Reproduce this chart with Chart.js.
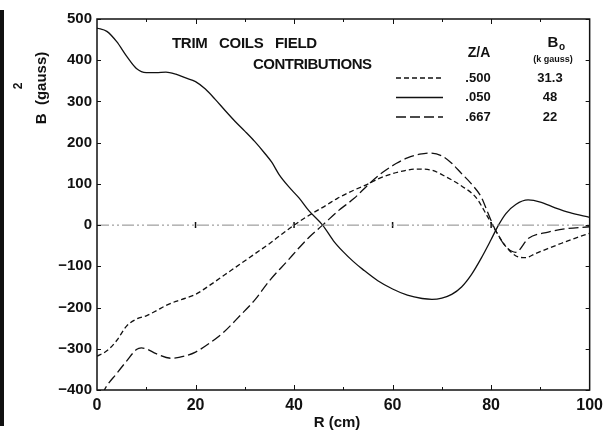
<!DOCTYPE html>
<html>
<head>
<meta charset="utf-8">
<script src="https://cdn.jsdelivr.net/npm/chart.js@4.4.1/dist/chart.umd.min.js"></script>
<style>
    html, body { margin: 0; padding: 0; background: #fff; }
    #wrap { position: relative; width: 609px; height: 430px; }
    #edge { position: absolute; left: 0; top: 10px; width: 4px; height: 416px; background: #111; }
</style>
</head>
<body>
<div id="wrap">
    <div id="edge"></div>
    <canvas id="chart" width="609" height="430"></canvas>
</div>
<script>
// Trim coil field contributions, B (gauss) against R (cm)

// Z/A = .050 (solid)
const rSolid = [0, 2, 4, 6, 8, 10, 12, 14, 16, 18, 20, 22, 24, 26, 28, 30, 32, 34, 35.5, 37, 39, 41, 43, 45.8,
    48, 50, 52, 54, 57, 60, 63, 66, 68, 70, 72, 74, 76, 78, 80, 81.5, 83, 85, 87.5, 90, 93, 96, 100];
const bSolid = [478, 470, 445, 410, 380, 370, 370, 371, 366, 357, 348, 330, 305, 278, 252, 228, 203, 175, 152, 122, 92, 66, 35, 0,
    -38, -65, -88, -108, -135, -155, -170, -178, -180, -177, -168, -150, -120, -80, -35, 0, 28, 50, 61, 56, 42, 30, 19];

// Z/A = .500 (short dashes)
const rShort = [0, 2, 4, 6, 8, 10, 12, 14, 16, 18, 20, 23, 26, 29, 32, 35, 37.5, 40, 42, 44.2, 46.5, 48.8, 52, 55.4,
    57, 60, 62, 65, 68, 71, 74, 77, 79.3, 81, 83, 85.5, 87, 89, 91.5, 94.3, 97, 100];
const bShort = [-318, -305, -280, -245, -228, -220, -208, -195, -185, -177, -168, -145, -120, -95, -70, -45, -22, 0, 16, 32, 48, 65, 84, 102,
    112, 125, 131, 136, 133, 116, 95, 66, 20, -15, -52, -77, -79, -69, -57, -44, -32, -20];

// Z/A = .667 (long dashes)
const rLong = [0, 1.5, 4, 6, 8, 9, 10, 12, 15, 18, 20, 23, 25.7, 29, 32, 35, 38.8, 40.8, 43, 45.8, 49, 52.2, 55.4,
    58, 60.8, 63, 65.5, 67.5, 70, 72, 74, 76, 78, 79.5, 81, 83, 85, 87.6, 91.6, 95, 100];
const bLong = [-445, -400, -360, -330, -302, -298, -300, -312, -323, -317, -308, -285, -260, -220, -182, -135, -85, -58, -30, 0, 35, 65, 102,
    128, 150, 163, 172, 175, 168, 150, 125, 100, 68, 25, -15, -52, -66, -32, -17, -9, -4];

// legend rows: Z/A and B0 (kgauss)
const legendZA = ['.500', '.050', '.667'];
const legendB0 = ['31.3', '48', '22'];
const legendDash = [[5, 3], [], [10, 4]];

const FONT = '"Liberation Sans", Arial, sans-serif';

function toPoints(xs, ys) {
    return xs.map((x, i) => ({ x: x, y: ys[i] }));
}

// frame, inward ticks and the lettering on the plot
const framePlugin = {
    id: 'frame',
    afterDraw(chart) {
        const ctx = chart.ctx;
        const a = chart.chartArea;
        const xs = chart.scales.x;
        const ys = chart.scales.y;

        ctx.save();
        ctx.strokeStyle = '#111';
        ctx.lineWidth = 1.5;
        ctx.strokeRect(a.left, a.top, a.right - a.left, a.bottom - a.top);

        ctx.lineWidth = 1;
        ctx.beginPath();
        for (let v = -400; v <= 500; v += 100) {
            const py = Math.round(ys.getPixelForValue(v)) + 0.5;
            ctx.moveTo(a.left, py); ctx.lineTo(a.left + 4, py);
            ctx.moveTo(a.right, py); ctx.lineTo(a.right - 4, py);
        }
        for (let v = 10; v < 100; v += 10) {
            const px = Math.round(xs.getPixelForValue(v)) + 0.5;
            const len = v % 20 === 0 ? 5 : 3;
            ctx.moveTo(px, a.bottom); ctx.lineTo(px, a.bottom - len);
            ctx.moveTo(px, a.top); ctx.lineTo(px, a.top + len);
        }
        ctx.stroke();

        ctx.fillStyle = '#111';
        ctx.textBaseline = 'middle';

        // title block
        ctx.font = 'bold 15px ' + FONT;
        ctx.textAlign = 'left';
        ctx.letterSpacing = '-0.3px';
        ctx.fillText('TRIM   COILS   FIELD', 172, 44);
        ctx.letterSpacing = '-0.5px';
        ctx.fillText('CONTRIBUTIONS', 253, 65);
        ctx.letterSpacing = '0px';

        // legend headings
        ctx.textAlign = 'center';
        ctx.font = 'bold 14px ' + FONT;
        ctx.fillText('Z/A', 479, 53);
        ctx.font = 'bold 15px ' + FONT;
        ctx.fillText('B', 553, 43);
        ctx.font = 'bold 10px ' + FONT;
        ctx.fillText('o', 562, 47);
        ctx.font = 'bold 9px ' + FONT;
        ctx.fillText('(k gauss)', 553, 60);

        // legend rows
        ctx.font = 'bold 13px ' + FONT;
        legendZA.forEach((za, i) => {
            const y = 78 + i * 19.5;
            ctx.save();
            ctx.lineWidth = 1.3;
            ctx.setLineDash(legendDash[i]);
            ctx.beginPath();
            ctx.moveTo(396, y); ctx.lineTo(443, y);
            ctx.stroke();
            ctx.restore();
            ctx.textAlign = 'center';
            ctx.fillText(za, 478, y);
            ctx.fillText(legendB0[i], 550, y);
        });

        // axis titles
        ctx.font = 'bold 15px ' + FONT;
        ctx.fillText('R (cm)', 337, 423);
        ctx.save();
        ctx.translate(42, 88);
        ctx.rotate(-Math.PI / 2);
        ctx.fillText('B  (gauss)', 0, 0);
        ctx.restore();
        ctx.save();
        ctx.translate(19, 86);
        ctx.rotate(-Math.PI / 2);
        ctx.font = 'bold 12px ' + FONT;
        ctx.fillText('2', 0, 0);
        ctx.restore();

        ctx.restore();
    }
};

const ctx = document.getElementById('chart').getContext('2d');
const chart = new Chart(ctx, {
    type: 'line',
    data: {
        datasets: [
            {
                label: 'zero',
                data: toPoints([0, 100], [0, 0]),
                borderColor: '#888',
                borderWidth: 1,
                borderDash: [12, 3, 2, 3, 2, 3],
                pointRadius: 0
            },
            {
                label: 'marks',
                data: toPoints([20, 40, 60, 80], [0, 0, 0, 0]),
                showLine: false,
                pointStyle: 'line',
                rotation: 90,
                pointRadius: 3,
                borderColor: '#111',
                borderWidth: 1.5
            },
            {
                label: '.050',
                data: toPoints(rSolid, bSolid),
                borderColor: '#111',
                borderWidth: 1.3,
                pointRadius: 0,
                cubicInterpolationMode: 'monotone'
            },
            {
                label: '.500',
                data: toPoints(rShort, bShort),
                borderColor: '#111',
                borderWidth: 1.3,
                borderDash: [5, 3],
                pointRadius: 0,
                cubicInterpolationMode: 'monotone'
            },
            {
                label: '.667',
                data: toPoints(rLong, bLong),
                borderColor: '#111',
                borderWidth: 1.3,
                borderDash: [10, 4],
                pointRadius: 0,
                cubicInterpolationMode: 'monotone'
            }
        ]
    },
    options: {
        responsive: false,
        animation: false,
        devicePixelRatio: 1,
        layout: { padding: { top: 19, right: 13, left: 0, bottom: 0 } },
        scales: {
            x: {
                type: 'linear',
                min: 0,
                max: 100,
                grid: { display: false, drawTicks: false },
                border: { display: false },
                afterFit: function(scale) { scale.height = 40; },
                ticks: {
                    stepSize: 20,
                    padding: 6,
                    color: '#111',
                    font: { family: FONT, size: 16, weight: 'bold' }
                }
            },
            y: {
                min: -400,
                max: 500,
                grid: { display: false, drawTicks: false },
                border: { display: false },
                afterFit: function(scale) { scale.width = 97; },
                ticks: {
                    stepSize: 100,
                    padding: 5,
                    color: '#111',
                    font: { family: FONT, size: 15, weight: 'bold' },
                    callback: function(value) {
                        return value < 0 ? '\u2212' + Math.abs(value) : String(value);
                    }
                }
            }
        },
        plugins: {
            legend: { display: false },
            tooltip: { enabled: false }
        }
    },
    plugins: [framePlugin]
});
</script>
</body>
</html>
